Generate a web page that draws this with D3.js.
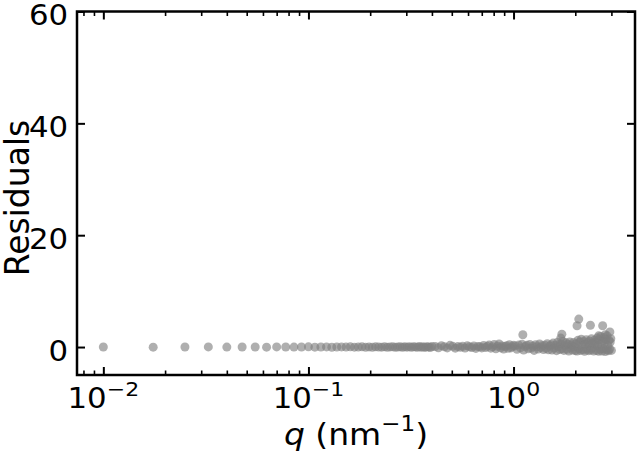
<!DOCTYPE html>
<html>
<head>
<meta charset="utf-8">
<script src="https://cdn.jsdelivr.net/npm/d3@7"></script>
<style>
  html, body { margin: 0; padding: 0; background: #fff; }
  svg { display: block; font-family: "DejaVu Sans", sans-serif; }
</style>
</head>
<body>
<svg id="chart" width="644" height="457"></svg>
<script>
// ---- data ----
const qLow = [0.01,0.0175,0.025,0.0325,0.04,0.0475,0.055,0.0625,0.07,0.0775,0.085,0.0925,0.1,0.1075,0.115,0.1225,0.13,0.1375,0.145,0.1525,0.16,0.1675,0.175,0.1825,0.19,0.1975,0.205,0.2125,0.22,0.2275,0.235,0.2425,0.25,0.2575,0.265,0.2725,0.28,0.2875,0.295,0.3025,0.31,0.3175,0.325,0.3325,0.34,0.3475,0.355,0.3625,0.37,0.3775,0.385,0.3925,0.4];
const resLow = [0.01,-0.02,0.00,0.02,-0.01,0.01,0.00,-0.02,0.02,0.01,-0.01,0.00,0.03,-0.02,0.01,0.02,-0.03,0.00,0.02,-0.01,0.03,-0.02,0.01,0.04,-0.03,0.02,-0.04,0.03,0.01,-0.02,0.05,-0.03,0.02,0.04,-0.05,0.01,0.06,-0.04,0.03,-0.02,0.07,-0.05,0.04,0.02,-0.06,0.08,-0.03,0.05,-0.07,0.06,0.02,-0.08,0.09];

const qMid = [0.415,0.43,0.445,0.46,0.475,0.49,0.505,0.52,0.535,0.55,0.565,0.58,0.595,0.61,0.625,0.64,0.655,0.67,0.685,0.7,0.715,0.73,0.745,0.76,0.775,0.79,0.805,0.82,0.835,0.85,0.865,0.88,0.895,0.91,0.925,0.94,0.955,0.97,0.985,1.0];
const resMid = [0.10,-0.12,0.25,0.05,-0.15,0.30,0.12,-0.20,0.08,-0.05,0.15,-0.18,0.22,0.03,-0.10,0.18,-0.25,0.10,0.05,-0.15,0.28,-0.08,0.12,0.35,-0.20,0.05,0.45,-0.30,0.15,0.55,-0.12,0.20,-0.35,0.10,0.25,-0.22,0.40,-0.15,0.05,0.30];

const qHigh = [1.02,1.04,1.06,1.08,1.10,1.12,1.14,1.16,1.18,1.20,1.22,1.24,1.26,1.28,1.30,1.32,1.34,1.36,1.38,1.40,1.42,1.44,1.46,1.48,1.50,
  1.52,1.54,1.56,1.58,1.60,1.62,1.64,1.66,1.68,1.70,1.72,1.74,1.76,1.78,1.80,1.82,1.84,1.86,1.88,1.90,1.92,1.94,1.96,1.98,2.00,
  2.02,2.04,2.06,2.08,2.10,2.12,2.14,2.16,2.18,2.20,2.22,2.24,2.26,2.28,2.30,2.32,2.34,2.36,2.38,2.40,2.42,2.44,2.46,2.48,2.50,
  2.52,2.54,2.56,2.58,2.60,2.62,2.64,2.66,2.68,2.70,2.72,2.74,2.76,2.78,2.80,2.82,2.84,2.86,2.88,2.90,2.92,2.94,2.96,2.98,3.00];
const resHigh = [0.20,-0.40,0.35,-0.15,0.50,-0.55,0.10,0.30,-0.30,0.45,-0.20,0.15,-0.60,0.40,0.05,-0.35,0.55,-0.10,0.25,-0.45,0.30,-0.25,0.60,-0.50,0.15,
  0.40,-0.55,0.70,-0.20,0.30,-0.65,0.85,0.10,-0.45,0.60,-0.30,1.00,-0.60,0.25,0.75,-0.40,0.50,-0.70,0.90,-0.15,0.35,-0.55,0.80,0.05,-0.65,
  0.60,-0.70,1.20,-0.30,0.90,-0.60,1.40,0.20,-0.50,1.00,-0.75,0.50,1.30,-0.40,0.80,-0.65,1.10,0.30,-0.55,1.50,-0.20,0.70,-0.70,1.20,0.40,
  0.90,-0.60,1.60,0.20,-0.75,1.30,-0.40,1.90,0.50,-0.70,1.10,-0.30,1.70,0.80,-0.80,1.40,-0.50,2.00,0.30,-0.65,1.20,-0.40,0.90,1.50,-0.60];

const qOutlier = [1.11,1.70,1.72,2.04,2.08,2.37,2.60,2.72,2.80,2.95];
const resOutlier = [2.2,1.6,2.3,3.8,5.0,3.9,2.0,3.8,2.2,2.7];

const yTickValues = [0, 20, 40, 60];
const xMajorTicks = [0.01, 0.1, 1];
const xMajorExponents = ["\u22122", "\u22121", "0"];
const xMinorTicks = [0.008,0.009,0.02,0.03,0.04,0.05,0.06,0.07,0.08,0.09,0.2,0.3,0.4,0.5,0.6,0.7,0.8,0.9,2,3];

// ---- layout ----
const svg = d3.select("#chart");
const pL = 77, pR = 635, pT = 11.5, pB = 375;
const stretch = 1.1; // reference glyphs are slightly wide

const x = d3.scaleLog().domain([0.00744, 3.91]).range([pL, pR]);
const y = d3.scaleLinear().domain([-5, 60]).range([pB, pT]);

const points = [];
[[qLow,resLow],[qMid,resMid],[qHigh,resHigh],[qOutlier,resOutlier]].forEach(([qs, rs]) => {
  qs.forEach((q, i) => points.push({q, r: rs[i]}));
});
points.sort((a, b) => a.q - b.q);

// points
svg.append("clipPath").attr("id", "plotclip").append("rect")
  .attr("x", pL).attr("y", pT).attr("width", pR - pL).attr("height", pB - pT);

svg.append("g").attr("clip-path", "url(#plotclip)")
  .selectAll("circle").data(points).join("circle")
  .attr("cx", d => x(d.q))
  .attr("cy", d => y(d.r))
  .attr("r", 4.5)
  .attr("fill", "#808080")
  .attr("fill-opacity", 0.63);

// axes (ticks inward)
function styleAxis(g, w) {
  g.select(".domain").remove();
  g.selectAll(".tick line").attr("stroke", "#000").attr("stroke-width", w);
}
const fmtNone = () => "";

svg.append("g").attr("transform", `translate(0,${pB})`)
  .call(d3.axisBottom(x).tickValues(xMajorTicks).tickSize(-8).tickFormat(fmtNone))
  .call(g => styleAxis(g, 2));
svg.append("g").attr("transform", `translate(0,${pB})`)
  .call(d3.axisBottom(x).tickValues(xMinorTicks).tickSize(-4.5).tickFormat(fmtNone))
  .call(g => styleAxis(g, 1.6));
svg.append("g").attr("transform", `translate(0,${pT})`)
  .call(d3.axisTop(x).tickValues(xMajorTicks).tickSize(-8).tickFormat(fmtNone))
  .call(g => styleAxis(g, 2));
svg.append("g").attr("transform", `translate(0,${pT})`)
  .call(d3.axisTop(x).tickValues(xMinorTicks).tickSize(-4.5).tickFormat(fmtNone))
  .call(g => styleAxis(g, 1.6));

const yLeft = svg.append("g").attr("transform", `translate(${pL},0)`)
  .call(d3.axisLeft(y).tickValues(yTickValues).tickSize(-8).tickPadding(8).tickFormat(d3.format("d")))
  .call(g => styleAxis(g, 2));
yLeft.selectAll(".tick text")
  .attr("fill", "#000").attr("font-size", 28).attr("font-family", "DejaVu Sans")
  .attr("dy", "0.48em").attr("transform", `scale(${stretch},1)`);

svg.append("g").attr("transform", `translate(${pR},0)`)
  .call(d3.axisRight(y).tickValues(yTickValues).tickSize(-8).tickFormat(fmtNone))
  .call(g => styleAxis(g, 2));

// x tick labels with superscripts
const xl = svg.append("g").selectAll("g").data(xMajorTicks).join("g")
  .attr("transform", d => `translate(${x(d)},408) scale(${stretch},1)`)
  .append("text")
  .attr("text-anchor", "middle").attr("font-size", 28).attr("fill", "#000");
xl.append("tspan").text("10");
xl.append("tspan").attr("font-size", 20).attr("dy", -12).text((d, i) => xMajorExponents[i]);

// spines
svg.append("rect").attr("x", pL).attr("y", pT)
  .attr("width", pR - pL).attr("height", pB - pT)
  .attr("fill", "none").attr("stroke", "#000").attr("stroke-width", 2.5);

// axis titles
const xt = svg.append("g").attr("transform", `translate(${(pL + pR) / 2},445) scale(${stretch},1)`)
  .append("text")
  .attr("text-anchor", "middle").attr("font-size", 30).attr("fill", "#000");
xt.append("tspan").attr("font-style", "italic").text("q");
xt.append("tspan").text(" (nm");
xt.append("tspan").attr("font-size", 21).attr("dy", -14).text("\u22121");
xt.append("tspan").attr("dy", 14).text(")");

svg.append("text")
  .attr("transform", `translate(29,198) rotate(-90)`)
  .attr("text-anchor", "middle").attr("font-size", 33).attr("fill", "#000")
  .text("Residuals");
</script>
</body>
</html>
